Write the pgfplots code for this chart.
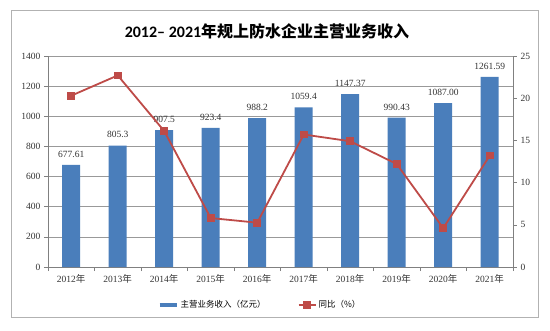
\documentclass[border=0pt]{standalone}
\usepackage{pgfplots}
\pgfplotsset{compat=1.18}
\usepackage{pgfplotstable}
\usepackage{fontspec}
\setmainfont{Liberation Serif}
\newfontfamily\cjk{Noto Sans CJK SC}
\newfontfamily\titlenum{Carlito}
\definecolor{barblue}{HTML}{4A7EBB}
\definecolor{linered}{HTML}{BE4B48}
\pgfplotstableread{
x rev label pct
0 677.61 677.61 20.3
1 805.3 805.3 22.7
2 907.5 907.5 16.1
3 923.4 923.4 5.8
4 988.2 988.2 5.25
5 1059.4 1059.4 15.7
6 1147.37 1147.37 14.9
7 990.43 990.43 12.2
8 1087.00 1087.00 4.6
9 1261.59 1261.59 13.2
}\datatable
\begin{document}
\begin{tikzpicture}
\path (0pt,0pt) rectangle (550pt,330pt);
\draw[gray!60, line width=1pt] (11pt,12pt) rectangle (538pt,319pt);
\node[font=\bfseries\fontsize{16}{18}\selectfont] at (267pt,299pt) {\titlenum 2012– 2021\cjk 年规上防水企业主营业务收入};
\begin{axis}[
  at={(48pt,63pt)}, anchor=south west, scale only axis,
  width=465pt, height=211pt,
  xmin=-0.5, xmax=9.5, ymin=0, ymax=1400,
  ytick={0,200,...,1400},
  ymajorgrids, grid style={black!40, line width=0.6pt},
  xtick={0,...,9},
  xticklabels={2012{\cjk 年},2013{\cjk 年},2014{\cjk 年},2015{\cjk 年},2016{\cjk 年},2017{\cjk 年},2018{\cjk 年},2019{\cjk 年},2020{\cjk 年},2021{\cjk 年}},
  major x tick style={draw=none},
  minor xtick={-0.5,0.5,...,9.5},
  minor tick length=4pt, major tick length=4pt,
  tick align=outside,
  axis x line*=bottom, axis y line*=left,
  axis line style={black!50, line width=0.6pt},
  tick style={black!50, line width=0.6pt},
  ticklabel style={font=\fontsize{9.5}{10}\selectfont, text=black!80},
  /pgf/number format/assume math mode=true,
  /pgf/number format/1000 sep={},
]
\addplot[ybar, bar width=18pt, fill=barblue, draw=none,
  nodes near coords, point meta=explicit symbolic,
  nodes near coords style={font=\fontsize{9.5}{10}\selectfont, text=black!80, yshift=4pt}]
  table[x=x, y=rev, meta=label] {\datatable};
\end{axis}
\begin{axis}[
  at={(48pt,63pt)}, anchor=south west, scale only axis,
  width=465pt, height=211pt,
  xmin=-0.5, xmax=9.5, ymin=0, ymax=25,
  ytick={0,5,...,25},
  axis x line=none, axis y line*=right,
  tick align=outside, major tick length=4pt,
  axis line style={black!50, line width=0.6pt},
  tick style={black!50, line width=0.6pt},
  ticklabel style={font=\fontsize{9.5}{10}\selectfont, text=black!80},
  /pgf/number format/assume math mode=true,
  legend style={draw=none, at={(0.456,-0.18)}, anchor=center, legend columns=2,
    font=\fontsize{8.5}{9}\selectfont, /tikz/every even column/.append style={column sep=30pt}},
]
\addlegendimage{barblue, line width=4pt}
\addlegendentry{\cjk 主营业务收入（亿元）}
\addplot[linered, line width=1.8pt, mark=square*, mark size=3pt, mark options={fill=linered}]
  table[x=x, y=pct] {\datatable};
\addlegendentry{\cjk 同比（\%）}
\end{axis}
\end{tikzpicture}
\end{document}
